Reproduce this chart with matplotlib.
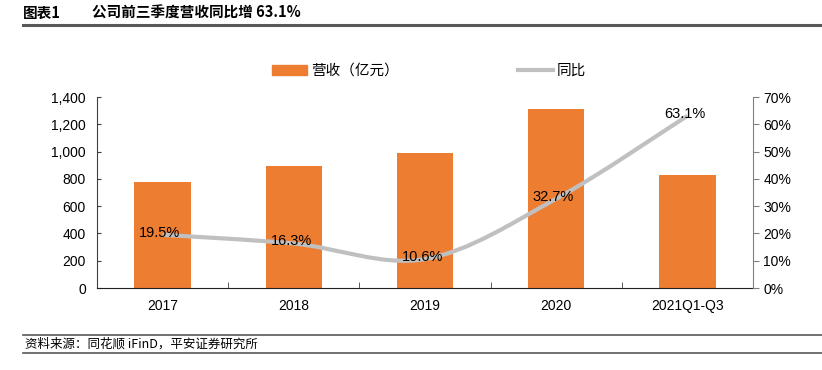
import numpy as np
import matplotlib
matplotlib.use("Agg")
import matplotlib.pyplot as plt
from matplotlib.path import Path
from matplotlib.patches import PathPatch, Patch
from matplotlib.lines import Line2D
from matplotlib.ticker import FuncFormatter, MultipleLocator

plt.rcParams['font.family'] = ['Liberation Sans', 'Noto Sans CJK SC', 'DejaVu Sans']

# 数据
categories = ["2017", "2018", "2019", "2020", "2021Q1-Q3"]
revenue = [779, 892, 990, 1310, 828]          # 营收（亿元）
yoy = [19.5, 16.3, 10.6, 32.7, 63.1]          # 同比 %
yoy_labels = ["19.5%", "16.3%", "10.6%", "32.7%", "63.1%"]

orange = "#ED7D31"
gray = "#C0C0C0"
cjk = ['Noto Sans CJK SC', 'DejaVu Sans']

fig = plt.figure(figsize=(8.22, 3.70), dpi=100)
ax = fig.add_axes([97 / 822, 1 - 288 / 370, (753 - 97) / 822, (288 - 97) / 370])
ax2 = ax.twinx()

x = np.arange(len(categories))
ax.bar(x, revenue, width=0.43, color=orange, zorder=2)
ax.set_xlim(-0.5, len(categories) - 0.5)
ax.set_ylim(0, 1400)
ax.yaxis.set_major_locator(MultipleLocator(200))
ax.yaxis.set_major_formatter(FuncFormatter(lambda v, p: f"{v:,.0f}"))
ax.set_xticks(x)
ax.set_xticklabels(categories, fontsize=10)
ax.set_xticks(np.arange(len(categories) + 1) - 0.5, minor=True)
ax.tick_params(axis="x", which="major", length=0, pad=8)
ax.tick_params(axis="x", which="minor", direction="in", length=4, color="#404040")
ax.tick_params(axis="y", direction="in", length=3, labelsize=10, pad=8, color="#404040")
for s in ["top", "right"]:
    ax.spines[s].set_visible(False)
ax.spines["left"].set_color("#404040")
ax.spines["bottom"].set_color("#202020")

# 同比折线（平滑曲线，Catmull-Rom -> Bezier）
ax2.set_ylim(0, 70)
ax2.yaxis.set_major_locator(MultipleLocator(10))
ax2.yaxis.set_major_formatter(FuncFormatter(lambda v, p: f"{v:.0f}%"))
ax2.tick_params(axis="y", direction="out", length=4, labelsize=10, color="#808080")
for s in ["top", "left", "bottom"]:
    ax2.spines[s].set_visible(False)
ax2.spines["right"].set_color("#808080")

pts = np.column_stack([x, yoy]).astype(float)
verts = [tuple(pts[0])]
codes = [Path.MOVETO]
t = 0.5
for i in range(len(pts) - 1):
    p0 = pts[i - 1] if i > 0 else pts[i]
    p1, p2 = pts[i], pts[i + 1]
    p3 = pts[i + 2] if i + 2 < len(pts) else pts[i + 1]
    c1 = p1 + (p2 - p0) * t / 3
    c2 = p2 - (p3 - p1) * t / 3
    verts += [tuple(c1), tuple(c2), tuple(p2)]
    codes += [Path.CURVE4] * 3
ax2.add_patch(PathPatch(Path(verts, codes), facecolor="none", edgecolor=gray, lw=3, zorder=3))

for xi, yi, lab in zip(x, yoy, yoy_labels):
    ax2.text(xi - 0.02, yi + 0.8, lab, ha="center", va="center", fontsize=10.5, color="#000000", zorder=4)

# 图例
handles = [Patch(facecolor=orange, edgecolor=orange), Line2D([0], [0], color=gray, lw=3)]
fig.legend(handles, ["营收（亿元）", "同比"], loc="center", bbox_to_anchor=(0.522, 1 - 71 / 370),
           ncol=2, frameon=False, columnspacing=8.2, handlelength=2.4, handletextpad=0.25,
           prop={'family': cjk, 'size': 10.5})

# 标题与来源
fig.text(23 / 822, 1 - 13 / 370, "图表1", family=cjk, fontsize=10.5, fontweight="bold", va="center")
fig.text(92 / 822, 1 - 13 / 370, "公司前三季度营收同比增 63.1%", family=cjk, fontsize=10.5,
         fontweight="bold", va="center")
fig.add_artist(Line2D([23 / 822, 1.0], [1 - 24.5 / 370] * 2, color="#595959", lw=2.2))
fig.add_artist(Line2D([23 / 822, 1.0], [1 - 335 / 370] * 2, color="#595959", lw=1.2))
fig.add_artist(Line2D([23 / 822, 1.0], [1 - 353 / 370] * 2, color="#595959", lw=1.2))
fig.text(25 / 822, 1 - 344 / 370, "资料来源：同花顺 iFinD，平安证券研究所", family=cjk,
         fontsize=9, style="italic", va="center")

fig.savefig("out.png", dpi=100)
